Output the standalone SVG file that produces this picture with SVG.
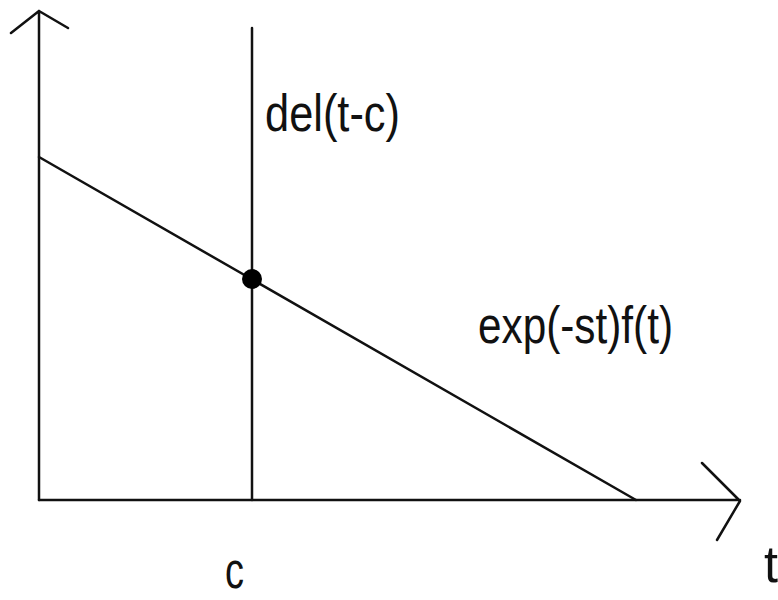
<svg xmlns="http://www.w3.org/2000/svg" width="778" height="600" viewBox="0 0 778 600">
<style>
.ln{stroke:#111;stroke-width:2.5;fill:none;stroke-linecap:round;stroke-linejoin:round}
.lb{font-family:"Liberation Sans",Arial,sans-serif;font-size:52px;fill:#111}
</style>
<rect width="778" height="600" fill="#fff"/>
<g id="connectors">
<path id="y-axis" class="ln" d="M39,500 V11 M11,33 L39,11 L68,28"/>
<path id="x-axis" class="ln" d="M39,500 H740 M702,463 L740,501 L717,540"/>
<path id="delta-line" class="ln" d="M252,28 V500"/>
<path id="exp-line" class="ln" d="M39,157 L636,500"/>
</g>
<g id="intersection"><circle cx="252" cy="279" r="10" fill="#000"/></g>
<g id="label-del"><text class="lb" x="265" y="131" textLength="135" lengthAdjust="spacingAndGlyphs">del(t-c)</text></g>
<g id="label-exp"><text class="lb" x="478" y="343" textLength="195" lengthAdjust="spacingAndGlyphs">exp(-st)f(t)</text></g>
<g id="label-c"><text class="lb" x="225" y="588" textLength="19" lengthAdjust="spacingAndGlyphs">c</text></g>
<g id="label-t"><text class="lb" x="764" y="582" textLength="14" lengthAdjust="spacingAndGlyphs">t</text></g>
</svg>
